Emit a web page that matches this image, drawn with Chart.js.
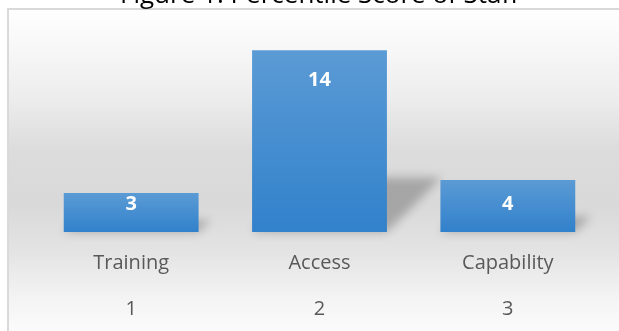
<!DOCTYPE html>
<html>
<head>
<meta charset="utf-8">
<script src="https://cdn.jsdelivr.net/npm/chart.js@4"></script>
<style>
  html, body { margin: 0; padding: 0; background: #ffffff; overflow: hidden; }
  #wrap { position: absolute; left: 0; top: -20px; width: 619px; height: 353px; }
</style>
</head>
<body>
<div id="wrap"><canvas id="c"></canvas></div>
<script>
const chartTitle = 'Figure 1: Percentile Score of Staff';
const categories = ['Training', 'Access', 'Capability'];
const tickNumbers = ['1', '2', '3'];
const values = [3, 14, 4];

const OFFSET = 20; // canvas shifted up by this many px

const backgroundPlugin = {
  id: 'bg',
  beforeDraw(chart) {
    const ctx = chart.ctx;
    const W = chart.width, H = chart.height;
    ctx.save();
    const top = 8 + OFFSET;
    const bottom = 331 + OFFSET;
    const g = ctx.createLinearGradient(0, top, 0, bottom);
    const stop = (py, c) => g.addColorStop(Math.min(1, Math.max(0, (py + OFFSET - top) / (bottom - top))), c);
    stop(9, '#fefefe');
    stop(40, '#f9f9f9');
    stop(100, '#ececec');
    stop(150, '#dcdcdc');
    stop(205, '#d9d9d9');
    stop(250, '#e3e3e3');
    stop(300, '#f4f4f4');
    stop(331, '#fbfbfb');
    ctx.fillStyle = g;
    ctx.fillRect(8, top, W - 8, H - top + 10);
    ctx.strokeStyle = '#d9d9d9';
    ctx.lineWidth = 2;
    ctx.beginPath();
    ctx.moveTo(8, H + 20);
    ctx.lineTo(8, top + 1);
    ctx.lineTo(W + 2, top + 1);
    ctx.stroke();
    ctx.restore();
  }
};

const shadowPlugin = {
  id: 'barShadow',
  beforeDatasetsDraw(chart) {
    const ctx = chart.ctx;
    const meta = chart.getDatasetMeta(0);
    ctx.save();
    ctx.filter = 'blur(5px)';
    ctx.fillStyle = 'rgba(0,0,0,0.24)';
    meta.data.forEach(el => {
      const h = el.base - el.y;
      const x0 = el.x - el.width / 2, x1 = el.x + el.width / 2;
      const d = h * 0.3;
      ctx.beginPath();
      ctx.moveTo(x0, el.base);
      ctx.lineTo(x1, el.base);
      ctx.lineTo(x1 + d, el.base - d);
      ctx.lineTo(x0 + d, el.base - d);
      ctx.closePath();
      ctx.fill();
    });
    ctx.restore();
  }
};

const valueLabelPlugin = {
  id: 'valueLabels',
  afterDatasetsDraw(chart) {
    const ctx = chart.ctx;
    const meta = chart.getDatasetMeta(0);
    ctx.save();
    ctx.fillStyle = '#ffffff';
    ctx.font = 'bold 20px "Open Sans", sans-serif';
    ctx.textAlign = 'center';
    ctx.textBaseline = 'middle';
    meta.data.forEach((el, i) => {
      const y = Math.min(el.y + 30, el.base - 28);
      ctx.fillText(String(values[i]), el.x, y);
    });
    ctx.restore();
  }
};

function barGradient(ctx) {
  const chart = ctx.chart;
  const ys = chart.scales && chart.scales.y;
  if (!ys || ctx.raw === undefined) return '#4a8fd2';
  const top = ys.getPixelForValue(ctx.raw);
  const base = ys.getPixelForValue(0);
  if (!isFinite(top) || !isFinite(base) || top === base) return '#4a8fd2';
  const g = chart.ctx.createLinearGradient(0, top, 0, base);
  g.addColorStop(0, '#5b9bd5');
  g.addColorStop(1, '#3181cb');
  return g;
}

new Chart(document.getElementById('c'), {
  type: 'bar',
  data: {
    labels: categories.map((c, i) => [c, tickNumbers[i]]),
    datasets: [{
      data: values,
      backgroundColor: barGradient,
      borderWidth: 0,
      categoryPercentage: 1.0,
      barPercentage: 0.716
    }]
  },
  options: {
    responsive: true,
    maintainAspectRatio: false,
    animation: false,
    layout: { padding: { left: 37, right: 17, top: 0, bottom: 1 } },
    plugins: {
      legend: { display: false },
      tooltip: { enabled: false },
      title: {
        display: true,
        text: chartTitle,
        color: '#000000',
        font: { family: '"Open Sans", sans-serif', size: 26, weight: 'normal' },
        padding: { top: 0, bottom: 13 }
      }
    },
    scales: {
      x: {
        grid: { display: false },
        border: { display: false },
        ticks: {
          color: '#595959',
          font: { family: '"Open Sans", sans-serif', size: 20, lineHeight: 2.3 },
          padding: 0,
          maxRotation: 0,
          autoSkip: false
        }
      },
      y: {
        display: false,
        min: 0,
        max: 16
      }
    }
  },
  plugins: [backgroundPlugin, shadowPlugin, valueLabelPlugin]
});
</script>
</body>
</html>
